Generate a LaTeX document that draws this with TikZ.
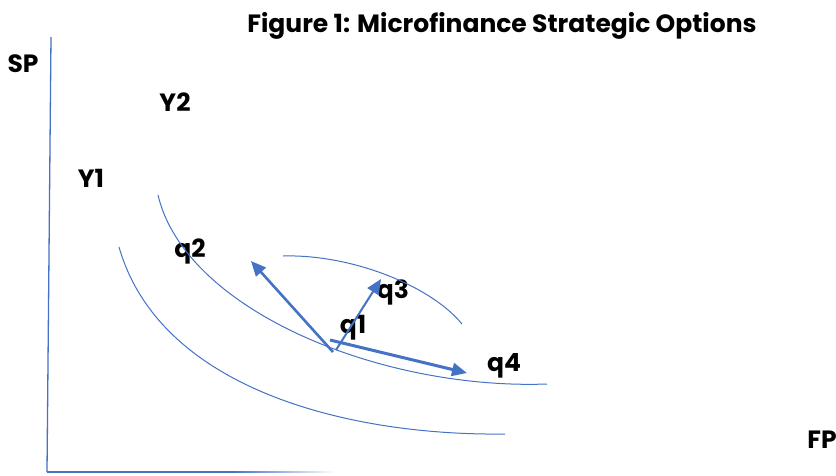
\documentclass[tikz,border=0pt]{standalone}
\usepackage{fontspec}
\setmainfont{Poppins}
\usetikzlibrary{arrows.meta}
\definecolor{lineblue}{HTML}{4472C4}
\tikzset{
  lbl/.style={font=\bfseries\fontsize{25}{29}\selectfont, text=black, inner sep=0pt},
  curve/.style={draw=lineblue, line width=1pt},
  axis/.style={draw=lineblue, line width=1.3pt},
  vec/.style={draw=lineblue, -{Triangle[length=15pt,width=13pt]}},
}
\begin{document}
\begin{tikzpicture}[x=1pt,y=-1pt]
\useasboundingbox (0,0) rectangle (836,475);

% title and labels
\node[lbl] (title) at (502,26) {Figure 1: Microfinance Strategic Options};
\node[lbl] (sp) at (23,64) {SP};
\node[lbl] (fp) at (822,440) {FP};
\node[lbl] (y2) at (175,102) {Y2};
\node[lbl] (y1) at (91,178) {Y1};
\node[lbl] (q2) at (190,251) {q2};
\node[lbl] (q3) at (393,292) {q3};
\node[lbl] (q1) at (353,328) {q1};
\node[lbl] (q4) at (504,366) {q4};

% axes
\draw[axis] (51,37) -- (47,472);
\draw[axis] (47,472) -- (232,472);
\shade[left color=lineblue, right color=white] (232,471.35) rectangle (336,472.65);

% indifference curves
\draw[curve] (119,247) .. controls (160,390) and (350,436) .. (505,434);
\draw[curve] (158,195) .. controls (185,310) and (380,390) .. (547,384);
\draw[curve] (283,256) .. controls (350,254) and (430,285) .. (462,324);

% strategic moves
\coordinate (o2) at (333,352);
\coordinate (t2) at (251,261);
\coordinate (o3) at (336,350);
\coordinate (t3) at (381,279);
\coordinate (o4) at (330,340);
\coordinate (t4) at (467,373);
\draw[vec, line width=2.6pt] (o2) -- (t2);
\draw[vec, line width=2pt] (o3) -- (t3);
\draw[vec, line width=3pt] (o4) -- (t4);
\end{tikzpicture}
\end{document}
